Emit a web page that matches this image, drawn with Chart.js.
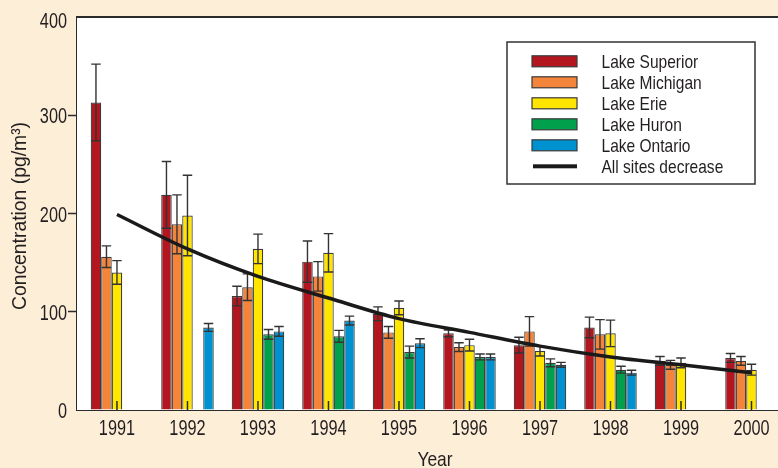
<!DOCTYPE html>
<html>
<head>
<meta charset="utf-8">
<script src="https://cdn.jsdelivr.net/npm/chart.js@4"></script>
<style>
  html, body { margin: 0; padding: 0; background: #fdeed8; }
  #wrap { width: 778px; height: 468px; position: relative; }
</style>
</head>
<body>
<div id="wrap"><canvas id="chart"></canvas></div>
<script>
const years = [1991, 1992, 1993, 1994, 1995, 1996, 1997, 1998, 1999, 2000];

const superior    = [313, 219, 116, 151, 98, 78, 66, 84, 50, 53];
const superiorErr = [39, 34, 10, 21, 7, 3.5, 8, 10.5, 4.5, 4.5];
const michigan    = [156, 189, 125, 136, 79, 64, 80, 77, 46, 50];
const michiganErr = [11, 30, 13.5, 15, 6, 4.5, 15, 15, 4.5, 4.5];
const erie        = [140, 198, 164, 160, 104, 66, 60, 78, 48, 41];
const erieErr     = [12, 41, 15, 19.5, 7, 6, 5, 13.5, 5, 5.5];
const huron       = [null, null, 77, 75, 59, 54, 48, 41, null, null];
const huronErr    = [null, null, 5, 6, 6, 3, 4, 3.5, null, null];
const ontario     = [null, 84, 80, 91, 68, 54, 46, 38, null, null];
const ontarioErr  = [null, 4, 5, 4.5, 4.5, 3, 2.5, 2.5, null, null];
const trend       = [199, 164, 136, 114, 93, 79, 65, 54, 46, 38];

const yTicks = [0, 100, 200, 300, 400];

const FONT = "'Liberation Sans', Arial, sans-serif";
const INK = '#231f20';

// condensed-looking text: squeeze horizontally
function drawText(ctx, text, x, y, size, sx, align) {
    ctx.save();
    ctx.font = size + 'px ' + FONT;
    ctx.textAlign = align || 'center';
    ctx.textBaseline = 'alphabetic';
    ctx.translate(x, y);
    ctx.scale(sx, 1);
    ctx.fillText(text, 0, 0);
    ctx.restore();
}

function barSet(label, data, errors, color) {
    return {
        type: 'bar',
        label: label,
        data: data,
        errors: errors,
        backgroundColor: color,
        borderColor: '#3a3a3a',
        borderWidth: 1.2,
        barPercentage: 1.0,
        categoryPercentage: 0.745,
    };
}

// white plot area, frame line, inward x ticks, tick labels and titles
const plotFrame = {
    id: 'plotFrame',
    beforeDatasetsDraw(chart) {
        const { ctx, chartArea: a } = chart;
        ctx.save();
        ctx.fillStyle = '#ffffff';
        ctx.fillRect(a.left, a.top, a.right - a.left, a.bottom - a.top);
        ctx.restore();
    },
    afterDraw(chart) {
        const { ctx, chartArea: a, scales } = chart;
        ctx.save();
        ctx.strokeStyle = '#2b2b2b';
        ctx.lineWidth = 2;
        ctx.beginPath();
        ctx.moveTo(a.left, a.top);
        ctx.lineTo(a.right, a.top);
        ctx.stroke();
        ctx.lineWidth = 1.5;
        ctx.beginPath();
        years.forEach(yr => {
            const x = scales.x.getPixelForValue(yr);
            ctx.moveTo(x, a.bottom);
            ctx.lineTo(x, a.bottom - 9);
        });
        ctx.stroke();

        ctx.fillStyle = INK;
        years.forEach(yr => {
            drawText(ctx, String(yr), scales.x.getPixelForValue(yr), 435, 22, 0.74, 'center');
        });
        yTicks.forEach(v => {
            let y = scales.y.getPixelForValue(v) + 8;
            if (v === 400) y += 3;
            drawText(ctx, String(v), a.left - 10, y, 22, 0.74, 'right');
        });

        drawText(ctx, 'Year', 435, 466, 21, 0.83, 'center');

        ctx.font = '20.5px ' + FONT;
        const title = 'Concentration (pg/m³)';
        const sx = 188 / ctx.measureText(title).width;
        ctx.translate(26, 216);
        ctx.rotate(-Math.PI / 2);
        drawText(ctx, title, 0, 0, 20.5, sx, 'center');
        ctx.restore();
    }
};

const errorBars = {
    id: 'errorBars',
    afterDatasetDraw(chart, args) {
        const ds = chart.data.datasets[args.index];
        if (!ds.errors) return;
        const y = chart.scales.y;
        const ctx = chart.ctx;
        ctx.save();
        ctx.strokeStyle = '#333333';
        ctx.lineWidth = 1.4;
        args.meta.data.forEach((bar, i) => {
            const v = ds.data[i], e = ds.errors[i];
            if (v == null || e == null) return;
            const yTop = y.getPixelForValue(v + e);
            const yBot = y.getPixelForValue(v - e);
            const half = bar.width * 0.45;
            ctx.beginPath();
            ctx.moveTo(bar.x, yTop); ctx.lineTo(bar.x, yBot);
            ctx.moveTo(bar.x - half, yTop); ctx.lineTo(bar.x + half, yTop);
            ctx.moveTo(bar.x - half, yBot); ctx.lineTo(bar.x + half, yBot);
            ctx.stroke();
        });
        ctx.restore();
    }
};

const boxLegend = {
    id: 'boxLegend',
    afterDraw(chart) {
        const ctx = chart.ctx;
        const left = 507, top = 42, w = 248, h = 142;
        ctx.save();
        ctx.fillStyle = '#ffffff';
        ctx.fillRect(left, top, w, h);
        ctx.strokeStyle = '#333333';
        ctx.lineWidth = 1.5;
        ctx.strokeRect(left, top, w, h);
        chart.data.datasets.forEach((ds, i) => {
            const base = 68.3 + i * 21;
            const cy = base - 7;
            if (ds.type === 'bar') {
                ctx.fillStyle = ds.backgroundColor;
                ctx.fillRect(532, cy - 5.5, 45, 11);
                ctx.lineWidth = 1.2;
                ctx.strokeStyle = '#3a3a3a';
                ctx.strokeRect(532, cy - 5.5, 45, 11);
            } else {
                ctx.fillStyle = '#1a1a1a';
                ctx.fillRect(533, cy - 2, 44, 4);
            }
            ctx.fillStyle = INK;
            drawText(ctx, ds.label, 601.5, base, 18.5, 0.84, 'left');
        });
        ctx.restore();
    }
};

const chart = new Chart(document.getElementById('chart'), {
    data: {
        labels: years,
        datasets: [
            barSet('Lake Superior', superior, superiorErr, '#b3161f'),
            barSet('Lake Michigan', michigan, michiganErr, '#f4843a'),
            barSet('Lake Erie', erie, erieErr, '#ffe500'),
            barSet('Lake Huron', huron, huronErr, '#00a04c'),
            barSet('Lake Ontario', ontario, ontarioErr, '#0092d0'),
            {
                type: 'line',
                label: 'All sites decrease',
                data: trend,
                borderColor: '#1a1a1a',
                borderWidth: 3.5,
                pointRadius: 0,
                cubicInterpolationMode: 'monotone',
                order: -1,
            },
        ],
    },
    options: {
        responsive: true,
        maintainAspectRatio: false,
        animation: false,
        layout: { padding: { top: 17, left: 0, right: 0, bottom: 0 } },
        plugins: {
            legend: { display: false },
            tooltip: { enabled: false },
        },
        scales: {
            x: {
                type: 'linear',
                offset: false,
                min: 1990.433,
                max: 2000.376,
                afterBuildTicks: s => { s.ticks = years.map(v => ({ value: v })); },
                afterFit: s => { s.height = 58; },
                grid: { drawOnChartArea: false, drawTicks: false, offset: false },
                border: { color: '#2b2b2b', width: 2 },
                ticks: { display: false },
            },
            y: {
                min: 0,
                max: 400,
                afterBuildTicks: s => { s.ticks = yTicks.map(v => ({ value: v })); },
                afterFit: s => { s.width = 77; },
                grid: {
                    drawOnChartArea: false,
                    tickLength: 9,
                    tickWidth: 1.5,
                    tickColor: c => (c.tick && (c.tick.value === 0 || c.tick.value === 400)) ? 'rgba(0,0,0,0)' : '#2b2b2b',
                },
                border: { color: '#2b2b2b', width: 2 },
                ticks: { display: false },
            },
        },
    },
    plugins: [plotFrame, errorBars, boxLegend],
});
</script>
</body>
</html>
